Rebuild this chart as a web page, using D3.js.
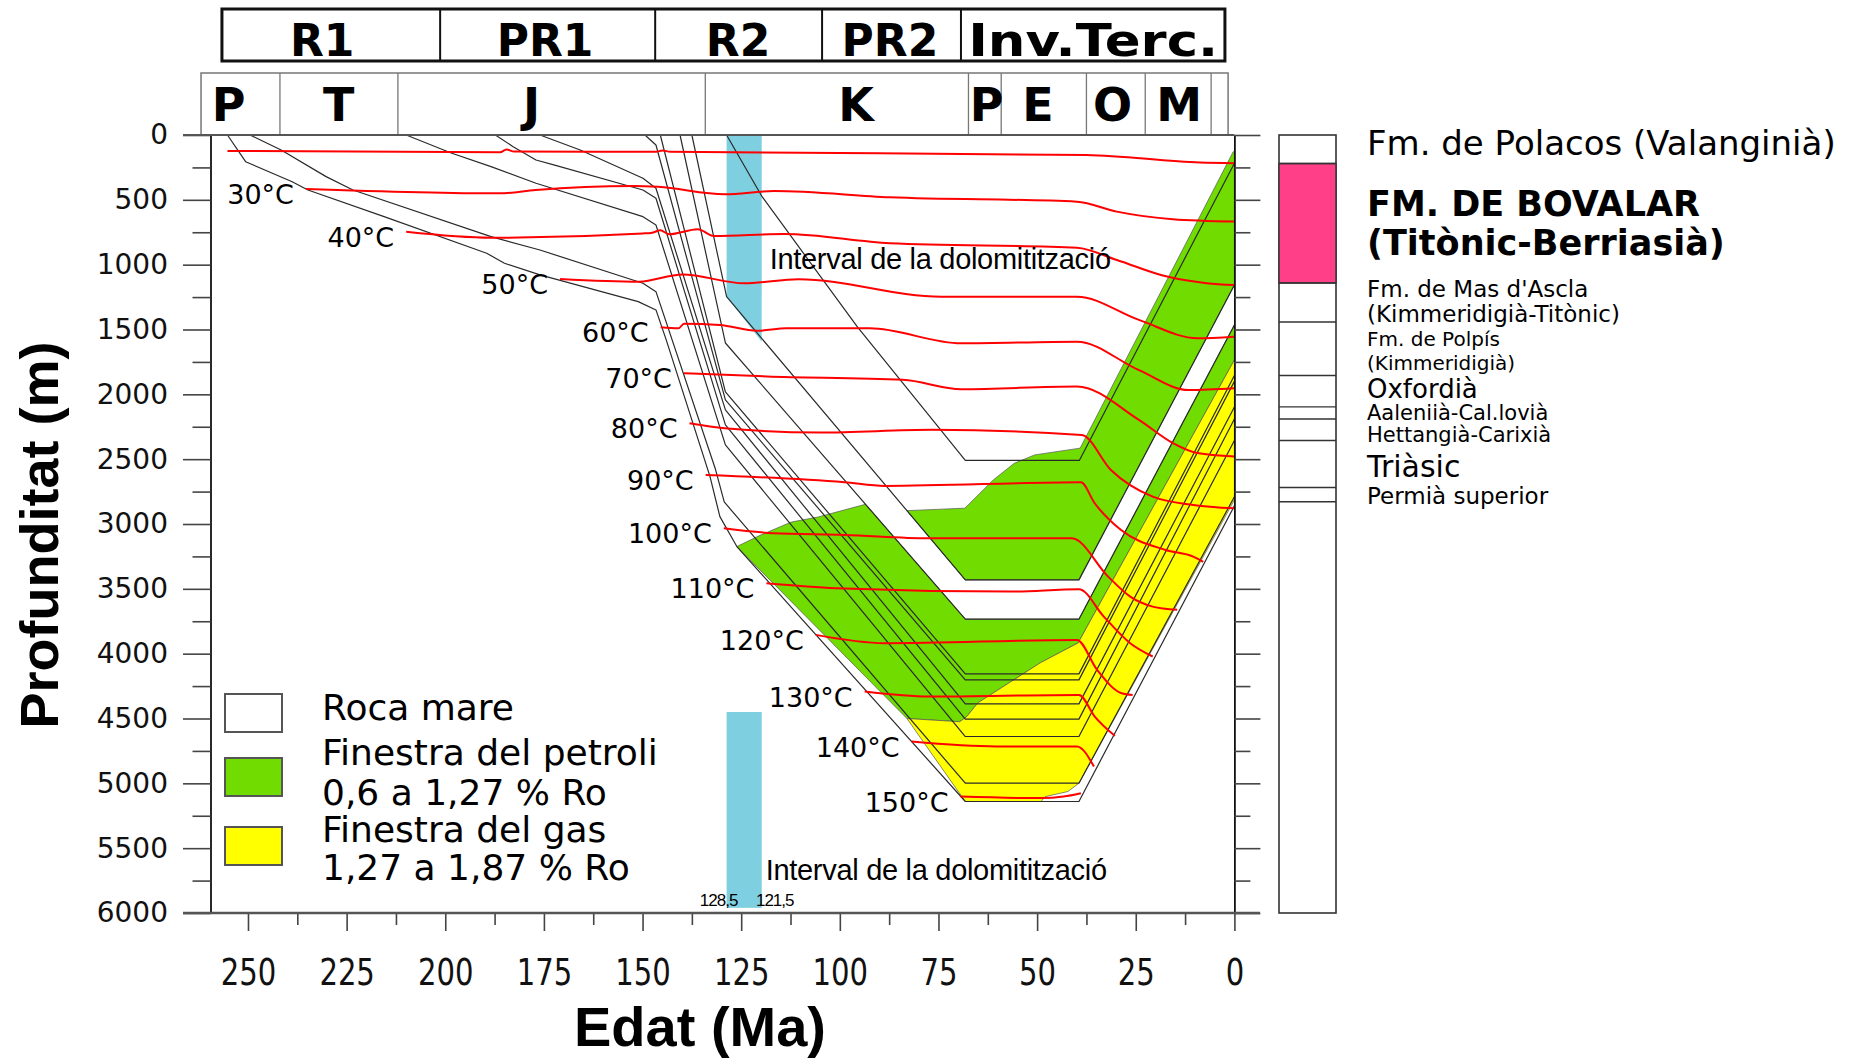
<!DOCTYPE html>
<html>
<head>
<meta charset="utf-8">
<script src="https://cdn.jsdelivr.net/npm/d3@7"></script>
<style>
  body { margin: 0; background: #fff; }
  svg { display: block; }
</style>
</head>
<body>
<svg id="chart" width="1861" height="1059"></svg>
<script>
// ---- data (ages in Ma, depths in m) ----
const ageLabels = [250, 225, 200, 175, 150, 125, 100, 75, 50, 25, 0];
const depthLabels = [0, 500, 1000, 1500, 2000, 2500, 3000, 3500, 4000, 4500, 5000, 5500, 6000];

const phases = ["R1", "PR1", "R2", "PR2", "Inv.Terc."];
const phaseBounds = [256.6, 201.3, 146.8, 104.5, 69.3, 2.4];
const phaseLabelAges = [231.2, 174.7, 125.8, 87.3, 35.8];

const periods = ["P", "T", "J", "K", "P", "E", "O", "M"];
const periodBounds = [261.9, 241.9, 212, 134.1, 67.4, 59.1, 37.5, 22.6, 5.9, 1.6];
const periodLabelAges = [254.9, 227, 178.1, 95.9, 62.8, 49.8, 30.9, 14];

// burial curves of the horizons [age, depth]
const hPolacosBase = [[128.7, 0], [119.7, 476], [95.6, 1478], [68.2, 2510], [39.3, 2510], [0, 218]];
const hBovalarBase = [[137.5, 0], [128.7, 1247], [68.2, 3431], [39.4, 3431], [0, 1157]];
const hMasAsclaBase = [[140.5, 0], [129, 1604], [68.2, 3734], [39.4, 3734], [0, 1465]];
const hPolpisBase = [[145.5, 0], [129, 1981], [68.2, 4156], [39.4, 4156], [0, 1855]];
const hPolpisLower = [[149.4, 0], [146.6, 77], [129, 2043], [68.2, 4202], [39.4, 4202], [0, 1900]];
const hOxfordBase = [[176, 0], [165.8, 116], [149.9, 334], [146.6, 411], [129, 2120], [68.2, 4387], [39.4, 4387], [0, 2097]];
const hAalenBase = [[187.3, 0], [182.8, 90], [177, 193], [172.5, 231], [149.9, 424], [146.6, 488], [129, 2236], [68.2, 4505], [39.4, 4505], [0, 2190]];
const hHettangBase = [[209.9, 0], [198.5, 139], [188.4, 244], [177, 372], [149.9, 630], [146.6, 694], [129, 2390], [68.2, 4639], [39.4, 4639], [0, 2356]];
const hTriasBase = [[249.5, 0], [241.6, 116], [230.2, 321], [223.4, 424], [188.4, 784], [176, 887], [149.9, 1143], [146.6, 1208], [131.5, 2580], [129.3, 2830], [68.2, 4999], [39.4, 4999], [0, 2790]];
const hPermianBase = [[255.2, 0], [250.6, 206], [238.8, 360], [234.8, 424], [215.5, 630], [189.5, 912], [185, 989], [176, 1079], [151.1, 1285], [146.6, 1349], [144, 1580], [132.9, 2635], [130.4, 2943], [126.1, 3174], [68.2, 5140], [39.4, 5140], [0, 2860]];

// maturity windows
const oilUpper = [[83, 2897], [68.3, 2878], [61.1, 2660], [55.8, 2532], [50.6, 2467], [39.1, 2415], [0.3, 129], [0, 129], [0, 1157], [39.4, 3431], [68.2, 3431]];
const oilLower = [[126.1, 3174], [120.2, 3087], [112.3, 2985], [105.5, 2946], [93.5, 2848], [68.2, 3734], [39.4, 3734], [0, 1465], [0, 1735], [39.6, 3917], [49.2, 4071], [57.1, 4225], [65, 4379], [67.8, 4484], [69.6, 4525], [83, 4500]];
const gasZone = [[83, 4500], [69.6, 4525], [67.8, 4484], [65, 4379], [57.1, 4225], [49.2, 4071], [39.6, 3917], [0, 1735], [0, 2814], [39.4, 4999], [42.2, 5063], [47.9, 5102], [49, 5140], [68.2, 5140]];

// dolomitisation interval
const dolomiteAges = [128.7, 119.8];
const dolomiteTop = [[128.7, 0], [119.8, 0], [119.8, 1594], [128.7, 1247]];
const dolomiteBottom = [4450, 5960];
const dolomiteAgeText = ["128,5", "121,5"];

// isotherms
const isoLabels = ["", "30°C", "40°C", "50°C", "60°C", "70°C", "80°C", "90°C", "100°C", "110°C", "120°C", "130°C", "140°C", "150°C"];
const iso20 = [[255.2, 123], [186.1, 133], [184.5, 112], [182.5, 128], [146.6, 129], [145, 120], [143, 129], [37.4, 154], [8.7, 213], [0, 218]];
const iso30 = [[235.3, 416], [186.1, 450], [177.1, 424], [152.2, 393], [146, 400], [129.2, 457], [116.7, 432], [87.3, 480], [39.9, 514], [29.8, 591], [15.6, 650], [0, 668]];
const iso40 = [[209.9, 746], [188.4, 792], [149.9, 759], [147.5, 753], [145.5, 735], [143.3, 765], [136, 726], [131.9, 779], [114, 764], [87.3, 835], [39.9, 869], [29.8, 964], [17.1, 1092], [7, 1143], [0, 1157]];
const iso50 = [[170.9, 1110], [150.9, 1131], [139.9, 1075], [124.2, 1144], [110.5, 1113], [74.2, 1247], [39.9, 1247], [24.2, 1426], [9.4, 1567], [0, 1555]];
const iso60 = [[145.4, 1483], [140.9, 1491], [139.5, 1455], [130.4, 1465], [121, 1510], [113.5, 1491], [92.4, 1491], [69.2, 1607], [39.9, 1594], [24.2, 1813], [11.6, 1967], [0, 1953]];
const iso70 = [[139.5, 1837], [118.5, 1862], [84, 1888], [69.2, 1960], [39.9, 1940], [24.2, 2197], [15.6, 2376], [9.4, 2453], [0, 2480]];
const iso80 = [[138.1, 2223], [129.2, 2262], [104.9, 2295], [76.6, 2274], [38.7, 2313], [31.3, 2583], [20.7, 2789], [10.4, 2853], [0, 2879]];
const iso90 = [[134, 2622], [98.8, 2678], [88.6, 2706], [38.9, 2678], [35.4, 2840], [28.8, 3045], [17.4, 3200], [10.4, 3251], [7.9, 3292]];
const iso100 = [[129.4, 3033], [116.9, 3071], [98.8, 3084], [77.3, 3110], [41.2, 3110], [32, 3406], [26.4, 3560], [20.7, 3637], [14.5, 3662]];
const iso110 = [[118.6, 3457], [101, 3495], [56.9, 3521], [39.4, 3503], [33.1, 3714], [26.4, 3919], [20.7, 4022]];
const iso120 = [[106.1, 3855], [88.6, 3919], [39.9, 3894], [34.8, 4125], [28.6, 4305], [25.8, 4318]];
const iso130 = [[93.7, 4292], [77.3, 4331], [39.4, 4318], [35.4, 4485], [30.3, 4634]];
const iso140 = [[81.8, 4678], [60.3, 4716], [39.9, 4716], [35.6, 4870]];
const iso150 = [[69.4, 5102], [49, 5114], [43.3, 5102], [38.9, 5076]];

// stratigraphic column (present-day depths)
const unitNames = [["Fm. de Polacos (Valanginià)"], ["FM. DE BOVALAR", "(Titònic-Berriasià)"], ["Fm. de Mas d'Ascla", "(Kimmeridigià-Titònic)"], ["Fm. de Polpís", "(Kimmeridigià)"], ["Oxfordià"], ["Aaleniià-Cal.lovià"], ["Hettangià-Carixià"], ["Triàsic"], ["Permià superior"]];
const unitTops = [0, 220, 1141, 1442, 1855, 2097, 2190, 2356, 2718];
const unitBases = [220, 1141, 1442, 1855, 2097, 2190, 2356, 2718, 2828];

const legendNames = [["Roca mare"], ["Finestra del petroli", "0,6 a 1,27 % Ro"], ["Finestra del gas", "1,27 a 1,87 % Ro"]];

// ---- drawing ----
const svg = d3.select("#chart");
const comic = "DejaVu Sans, sans-serif";
const arial = "Liberation Sans, Arial, sans-serif";

const x = d3.scaleLinear().domain([259.5, 0]).range([210.5, 1234.4]);
const y = d3.scaleLinear().domain([0, 6000]).range([135, 913]);
const line = d3.line().x(d => x(d[0])).y(d => y(d[1]));
const smooth = d3.line().x(d => x(d[0])).y(d => y(d[1])).curve(d3.curveMonotoneX);

// header row 1: tectonic phases
const head1 = svg.append("g");
head1.append("rect")
    .attr("x", x(phaseBounds[0])).attr("y", 9)
    .attr("width", x(phaseBounds[phaseBounds.length - 1]) - x(phaseBounds[0])).attr("height", 52)
    .attr("fill", "none").attr("stroke", "#111").attr("stroke-width", 3);
phaseBounds.slice(1, -1).forEach(a => {
    head1.append("line").attr("x1", x(a)).attr("x2", x(a)).attr("y1", 9).attr("y2", 61)
        .attr("stroke", "#111").attr("stroke-width", 2);
});
phases.forEach((p, i) => {
    const t = head1.append("text")
        .attr("x", x(phaseLabelAges[i])).attr("y", 56)
        .attr("text-anchor", "middle")
        .style("font-family", comic).style("font-weight", "bold").style("font-size", "44px")
        .text(p);
    if (p.length > 5) t.attr("textLength", 250).attr("lengthAdjust", "spacingAndGlyphs");
});

// header row 2: periods
const head2 = svg.append("g");
head2.append("rect")
    .attr("x", x(periodBounds[0])).attr("y", 73)
    .attr("width", x(periodBounds[periodBounds.length - 1]) - x(periodBounds[0])).attr("height", 62)
    .attr("fill", "none").attr("stroke", "#777").attr("stroke-width", 1.5);
periodBounds.slice(1, -1).forEach(a => {
    head2.append("line").attr("x1", x(a)).attr("x2", x(a)).attr("y1", 73).attr("y2", 135)
        .attr("stroke", "#777").attr("stroke-width", 1.3);
});
periods.forEach((p, i) => {
    head2.append("text")
        .attr("x", x(periodLabelAges[i])).attr("y", 121)
        .attr("text-anchor", "middle")
        .style("font-family", comic).style("font-weight", "bold").style("font-size", "46px")
        .text(p);
});

// dolomitisation bars
const blue = "#7ecfe0";
svg.append("path").attr("d", line(dolomiteTop) + "Z").attr("fill", blue);
svg.append("rect")
    .attr("x", x(dolomiteAges[0])).attr("width", x(dolomiteAges[1]) - x(dolomiteAges[0]))
    .attr("y", y(dolomiteBottom[0])).attr("height", y(dolomiteBottom[1]) - y(dolomiteBottom[0]))
    .attr("fill", blue);

// maturity fills
const green = "#70dc00", yellow = "#ffff00";
[[oilUpper, green], [oilLower, green], [gasZone, yellow]].forEach(([pts, c]) => {
    svg.append("path").attr("d", line(pts) + "Z")
        .attr("fill", c).attr("stroke", "#555").attr("stroke-width", 0.7);
});

// horizons
const horizons = [hPolacosBase, hBovalarBase, hMasAsclaBase, hPolpisBase, hPolpisLower,
    hOxfordBase, hAalenBase, hHettangBase, hTriasBase, hPermianBase];
svg.append("g").selectAll("path").data(horizons).enter().append("path")
    .attr("d", line)
    .attr("fill", "none").attr("stroke", "#2a2a2a").attr("stroke-width", 1.2)
    .attr("stroke-linejoin", "round");

// isotherms
const isotherms = [iso20, iso30, iso40, iso50, iso60, iso70, iso80, iso90, iso100, iso110, iso120, iso130, iso140, iso150];
svg.append("g").selectAll("path").data(isotherms).enter().append("path")
    .attr("d", smooth)
    .attr("fill", "none").attr("stroke", "#ff0000").attr("stroke-width", 2);
svg.append("g").selectAll("text").data(isotherms).enter().append("text")
    .attr("x", d => x(d[0][0]) - 12)
    .attr("y", d => y(d[0][1]) + 15)
    .attr("text-anchor", "end")
    .style("font-family", comic).style("font-size", "27px")
    .text((d, i) => isoLabels[i]);

// axes
const yAxis = svg.append("g").attr("transform", `translate(${x(259.5)},0)`)
    .call(d3.axisLeft(y).tickValues(depthLabels).tickSize(27.5).tickPadding(15)
        .tickFormat(d3.format("d")).tickSizeOuter(0));
svg.append("g").attr("transform", `translate(${x(259.5)},0)`)
    .call(d3.axisLeft(y).tickValues(d3.range(250, 6000, 500)).tickSize(18).tickFormat("").tickSizeOuter(0))
    .select(".domain").remove();
yAxis.selectAll("text").style("font-family", comic).style("font-size", "28px").attr("fill", "#111");

const xAxis = svg.append("g").attr("transform", `translate(0,${y(6000)})`)
    .call(d3.axisBottom(x).tickValues(ageLabels).tickSize(18).tickPadding(27).tickFormat(d3.format("d")));
svg.append("g").attr("transform", `translate(0,${y(6000)})`)
    .call(d3.axisBottom(x).tickValues(d3.range(12.5, 260, 25)).tickSize(12).tickFormat(""))
    .select(".domain").remove();
xAxis.select(".domain").remove();
xAxis.selectAll("text")
    .style("font-family", comic).style("font-size", "38px").attr("fill", "#111")
    .attr("textLength", d => String(d).length * 18.5).attr("lengthAdjust", "spacingAndGlyphs");

svg.append("g").attr("transform", `translate(${x(0)},0)`)
    .call(d3.axisRight(y).tickValues(depthLabels).tickSize(26).tickFormat("").tickSizeOuter(0));
svg.append("g").attr("transform", `translate(${x(0)},0)`)
    .call(d3.axisRight(y).tickValues(d3.range(250, 6000, 500)).tickSize(16).tickFormat(""))
    .select(".domain").remove();

svg.selectAll(".tick line").attr("stroke", "#444").attr("stroke-width", 1.6);
svg.selectAll(".domain").attr("stroke", "#111").attr("stroke-width", 1.8);

// frame lines
svg.append("line").attr("x1", 183).attr("x2", x(0)).attr("y1", y(0)).attr("y2", y(0))
    .attr("stroke", "#555").attr("stroke-width", 2);
svg.append("line").attr("x1", 183).attr("x2", 1260).attr("y1", y(6000)).attr("y2", y(6000))
    .attr("stroke", "#555").attr("stroke-width", 2.5);

// dolomitisation texts
[269, 880].forEach((ty, i) => {
    svg.append("text").attr("x", x(dolomiteAges[1]) + (i ? 4 : 8)).attr("y", ty)
        .style("font-family", arial).style("font-size", "29px").style("letter-spacing", "-0.3px")
        .text("Interval de la dolomitització");
});
svg.append("text").attr("x", x(dolomiteAges[0]) - 8).attr("y", 906)
    .attr("text-anchor", "middle")
    .style("font-family", arial).style("font-size", "17px").style("letter-spacing", "-1px")
    .text(dolomiteAgeText[0]);
svg.append("text").attr("x", x(dolomiteAges[1]) + 13).attr("y", 906)
    .attr("text-anchor", "middle")
    .style("font-family", arial).style("font-size", "17px").style("letter-spacing", "-1px")
    .text(dolomiteAgeText[1]);

// legend
const legend = svg.append("g");
const legendFill = ["#fff", green, yellow];
const legendBoxY = [694, 758, 827];
const legendTextY = [[720], [765, 805], [842, 880]];
legendNames.forEach((names, i) => {
    legend.append("rect").attr("x", 225).attr("y", legendBoxY[i]).attr("width", 57).attr("height", 38)
        .attr("fill", legendFill[i]).attr("stroke", "#555").attr("stroke-width", 2);
    names.forEach((n, j) => {
        legend.append("text").attr("x", 322).attr("y", legendTextY[i][j])
            .style("font-family", comic).style("font-size", "36px").text(n);
    });
});

// stratigraphic column
const col = svg.append("g");
const colX = 1279, colW = 57;
col.append("rect").attr("x", colX).attr("y", y(0)).attr("width", colW).attr("height", y(6000) - y(0))
    .attr("fill", "#fff").attr("stroke", "#333").attr("stroke-width", 1.6);
col.append("rect").attr("x", colX).attr("y", y(unitTops[1])).attr("width", colW)
    .attr("height", y(unitBases[1]) - y(unitTops[1]))
    .attr("fill", "#ff4088").attr("stroke", "#333").attr("stroke-width", 1.4);
unitBases.forEach(d => {
    col.append("line").attr("x1", colX).attr("x2", colX + colW).attr("y1", y(d)).attr("y2", y(d))
        .attr("stroke", "#333").attr("stroke-width", 1.4);
});
const unitFont = [34, 35, 23, 20, 26, 21, 21, 30, 23];
const unitBold = [false, true, false, false, false, false, false, false, false];
const unitLead = [0, 39, 25, 23.5, 0, 0, 0, 0, 0];
const unitShift = [-7, 0, -1, 2, -3, -1, 5, 2, 1];
unitNames.forEach((names, i) => {
    const mid = (y(unitTops[i]) + y(unitBases[i])) / 2 + unitShift[i];
    const first = mid - (names.length - 1) * unitLead[i] / 2;
    names.forEach((n, j) => {
        col.append("text").attr("x", 1367)
            .attr("y", first + j * unitLead[i] + unitFont[i] * 0.36)
            .style("font-family", comic).style("font-size", unitFont[i] + "px")
            .style("font-weight", unitBold[i] ? "bold" : "normal")
            .text(n);
    });
});

// axis titles
svg.append("text").attr("x", 700).attr("y", 1046).attr("text-anchor", "middle")
    .style("font-family", arial).style("font-weight", "bold").style("font-size", "56px")
    .text("Edat (Ma)");
svg.append("text").attr("transform", "translate(58,535) rotate(-90)").attr("text-anchor", "middle")
    .style("font-family", arial).style("font-weight", "bold").style("font-size", "54px")
    .text("Profunditat (m)");
</script>
</body>
</html>
